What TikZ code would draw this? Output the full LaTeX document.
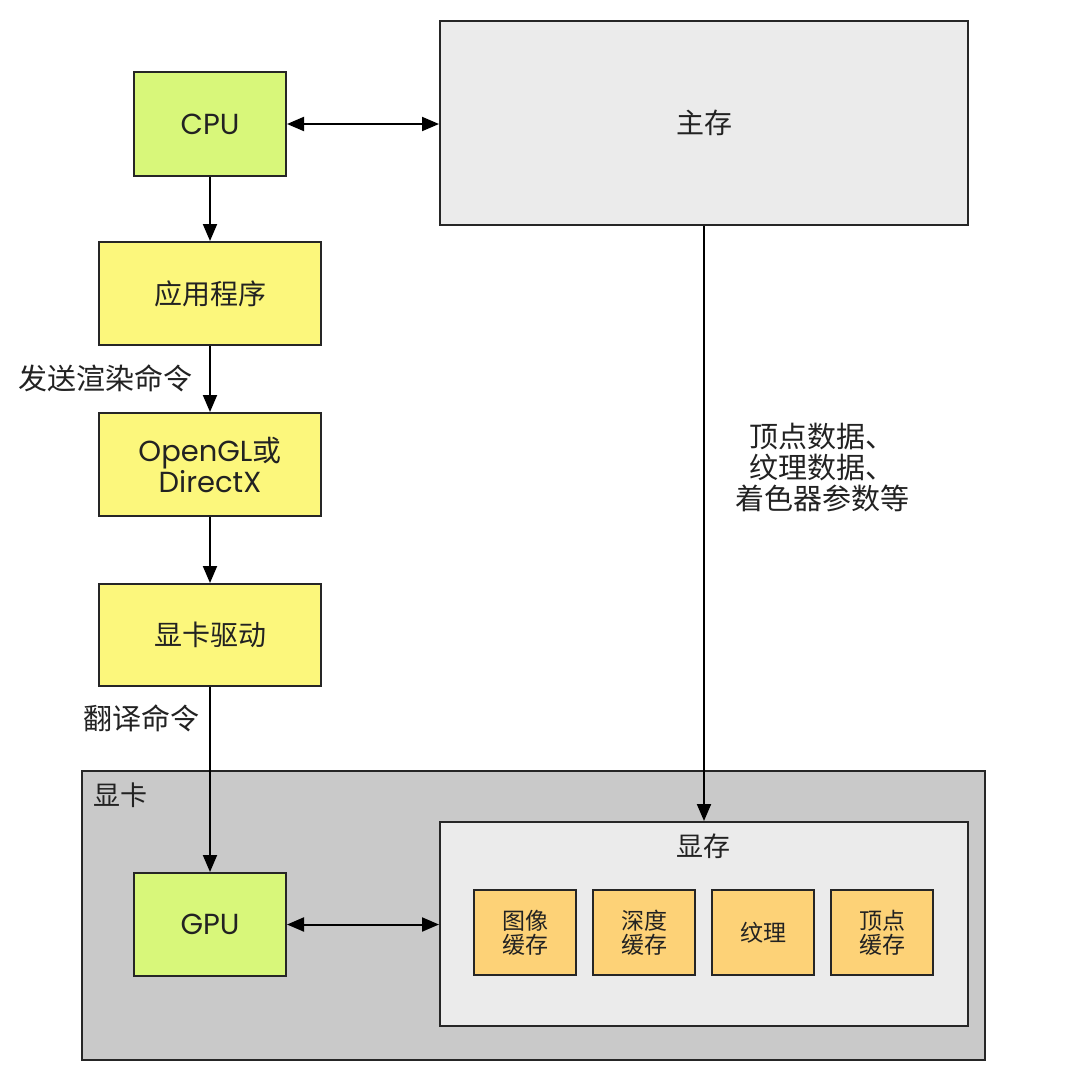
\documentclass[tikz,border=0pt]{standalone}
\usepackage{fontspec}
\setmainfont{Poppins}
\newfontfamily\cjk{Noto Sans CJK SC}
\usetikzlibrary{arrows.meta}
\definecolor{cpugreen}{HTML}{D8F77A}
\definecolor{appyellow}{HTML}{FCF77C}
\definecolor{memgray}{HTML}{EBEBEB}
\definecolor{cardgray}{HTML}{C9C9C9}
\definecolor{buforange}{HTML}{FDD277}
\definecolor{txt}{HTML}{222222}
\begin{document}
\begin{tikzpicture}[x=1pt,y=-1pt,
  box/.style={draw=black!85, line width=2pt, inner sep=0pt, anchor=north west, text=txt, align=center},
  big/.style={font=\fontsize{29}{31}\selectfont},
  small/.style={font=\cjk\fontsize{23}{24}\selectfont},
  lbl/.style={text=txt, align=center, inner sep=0pt, font=\cjk\fontsize{29}{31}\selectfont},
  arr/.style={line width=2pt, -{Triangle[length=17pt,width=14pt]}},
  darr/.style={line width=2pt, {Triangle[length=17pt,width=14pt]}-{Triangle[length=17pt,width=14pt]}}]
\useasboundingbox[fill=white] (0,0) rectangle (1082,1082);
% graphics card container
\node[box, fill=cardgray, minimum width=903pt, minimum height=289pt] (card) at (81,770) {};
\node[lbl, font=\cjk\fontsize{27}{29}\selectfont] (cardlbl) at (120,795) {显卡};
% main memory
\node[box, fill=memgray, minimum width=528pt, minimum height=204pt, font=\cjk\fontsize{28}{30}\selectfont] (mem) at (439,20) {主存};
% CPU
\node[box, fill=cpugreen, minimum width=152pt, minimum height=104pt, big] (cpu) at (133,71) {CPU};
% application
\node[box, fill=appyellow, minimum width=222pt, minimum height=103pt, font=\cjk\fontsize{28}{30}\selectfont] (app) at (98,241) {应用程序};
% OpenGL / DirectX
\node[box, fill=appyellow, minimum width=222pt, minimum height=103pt, big] (api) at (98,412) {OpenGL{\cjk 或}\\DirectX};
% driver
\node[box, fill=appyellow, minimum width=222pt, minimum height=102pt, font=\cjk\fontsize{28}{30}\selectfont] (drv) at (98,583) {显卡驱动};
% GPU
\node[box, fill=cpugreen, minimum width=152pt, minimum height=103pt, big] (gpu) at (133,872) {GPU};
% video memory
\node[box, fill=memgray, minimum width=528pt, minimum height=204pt] (vram) at (439,821) {};
\node[lbl, font=\cjk\fontsize{27}{29}\selectfont] (vramlbl) at (703,846) {显存};
% buffers
\node[box, fill=buforange, minimum width=102pt, minimum height=85pt, small] (b1) at (473,889) {图像\\缓存};
\node[box, fill=buforange, minimum width=102pt, minimum height=85pt, small] (b2) at (592,889) {深度\\缓存};
\node[box, fill=buforange, minimum width=102pt, minimum height=85pt, small] (b3) at (711,889) {纹理};
\node[box, fill=buforange, minimum width=102pt, minimum height=85pt, small] (b4) at (830,889) {顶点\\缓存};
% labels
\node[lbl] (l1) at (106,378) {发送渲染命令};
\node[lbl] (l2) at (141,718) {翻译命令};
\node[lbl] (l3) at (822,468) {顶点数据、\\纹理数据、\\着色器参数等};
% connectors
\draw[darr] (cpu.east) -- (cpu.east -| mem.west);
\draw[arr] (cpu.south) -- (cpu.south |- app.north);
\draw[arr] (app.south) -- (api.north);
\draw[arr] (api.south) -- (drv.north);
\draw[arr] (drv.south) -- (drv.south |- gpu.north);
\draw[arr] (mem.south) -- (vram.north);
\draw[darr] (gpu.east) -- (gpu.east -| vram.west);
\end{tikzpicture}
\end{document}
